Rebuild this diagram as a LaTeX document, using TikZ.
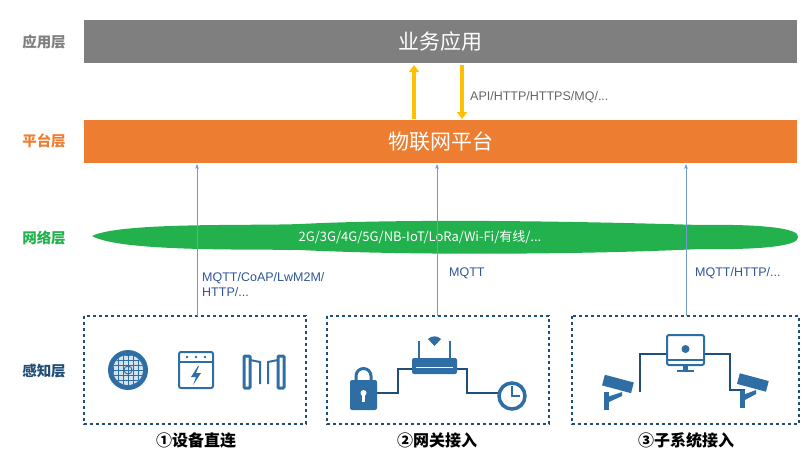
\documentclass[tikz,border=0pt]{standalone}
\usepackage{fontspec}
\setmainfont{Liberation Sans}
\newfontfamily\cjk{Noto Sans CJK SC}
\usetikzlibrary{arrows.meta}
\definecolor{gbar}{HTML}{7F7F7F}
\definecolor{obar}{HTML}{ED7D31}
\definecolor{gcloud}{HTML}{22B14C}
\definecolor{lblue}{HTML}{6E9BD0}
\definecolor{dblue}{HTML}{1F4E79}
\definecolor{iblue}{HTML}{2F6EA5}
\definecolor{tblue}{HTML}{2F5597}
\definecolor{yarr}{HTML}{FFC000}
\begin{document}
\begin{tikzpicture}[x=1pt,y=-1pt,
  bar/.style={inner sep=0pt,minimum width=713pt,minimum height=43pt,text=white,font=\cjk\fontsize{21}{24}\selectfont},
  layer/.style={font=\cjk\bfseries\fontsize{14.5}{16}\selectfont},
  proto/.style={font=\fontsize{12.5}{15}\selectfont,text=tblue,anchor=west,align=left,inner sep=0pt},
  dbox/.style={draw=dblue,dashed,line width=1.6pt},
  captext/.style={font=\cjk\bfseries\fontsize{16}{18}\selectfont},
  up/.style={lblue,line width=1pt,-{Stealth[length=5pt]}},
  yel/.style={yarr,line width=3.5pt,-{Triangle[length=7pt,width=10pt]}},
  ico/.style={iblue,line width=2pt},
  wire/.style={dblue,line width=1.6pt}]
\useasboundingbox (0,0) rectangle (806,456);
\node[bar,fill=gbar] (app) at (440.5,41.5) {业务应用};
\node[bar,fill=obar] (plat) at (440.5,141.5) {物联网平台};
\node[layer,text=gbar] (l1) at (44,42) {应用层};
\node[layer,text=obar] (l2) at (44,141) {平台层};
\node[layer,text=gcloud] (l3) at (44,238) {网络层};
\node[layer,text=dblue] (l4) at (44,371) {感知层};
\draw[yel] (414,119) -- (414,65);
\draw[yel] (462,65) -- (462,119);
\node[proto,text=gbar!80!black] (api) at (470,97) {API/HTTP/HTTPS/MQ/...};
% cloud
\fill[gcloud] (92,236) .. controls (120,222) and (250,226) .. (300,224)
  .. controls (420,218) and (600,222) .. (700,225)
  .. controls (760,224) and (800,228) .. (798,237)
  .. controls (800,246) and (760,250) .. (700,249)
  .. controls (600,254) and (420,256) .. (300,250)
  .. controls (250,249) and (120,252) .. (92,236) -- cycle;
\node[text=white,font=\cjk\fontsize{13}{15}\selectfont] (net) at (420,237) {2G/3G/4G/5G/NB-IoT/LoRa/Wi-Fi/有线/...};
% boxes
\draw[dbox] (84,316) rectangle (306,424);
\draw[dbox] (327,316) rectangle (549,424);
\draw[dbox] (572,316) rectangle (799,424);
\coordinate (b1) at (197,316); \coordinate (b2) at (437,316); \coordinate (b3) at (686,316);
\draw[up] (b1) -- (197,164);
\draw[up] (b2) -- (437,164);
\draw[up] (b3) -- (686,164);
\node[proto] (p1) at (202,285) {MQTT/CoAP/LwM2M/\\HTTP/...};
\node[proto] (p2) at (449,273) {MQTT};
\node[proto] (p3) at (695,273) {MQTT/HTTP/...};
\node[captext] (c1) at (196,440) {①设备直连};
\node[captext] (c2) at (437,440) {②网关接入};
\node[captext] (c3) at (686,440) {③子系统接入};
% box1 icons
\fill[iblue] (128,370) circle (20);
\fill[white!80!iblue] (128,370) circle (15);
\begin{scope}
\clip (128,370) circle (15);
\foreach \d in {-15,-10,...,15}{\draw[iblue,line width=0.6pt] (113,370+\d) -- (143,370+\d); \draw[iblue,line width=0.6pt] (128+\d,355) -- (128+\d,385);}
\end{scope}
\draw[iblue,line width=1pt] (128,370) circle (4);
\draw[ico,rounded corners=2pt] (179,352) rectangle (213,388);
\draw[ico] (179,362) -- (213,362);
\foreach \xx in {187,196,205} \fill[iblue] (\xx,357) circle (1.3);
\fill[iblue] (198,366) -- (191,377) -- (196,377) -- (193,385) -- (201,373) -- (196,373) -- (199,366) -- cycle;
\draw[ico,line width=3pt,rounded corners=1pt] (244,356) rectangle (250,388);
\draw[ico,line width=3pt,rounded corners=1pt] (278,356) rectangle (284,388);
\draw[ico] (250,360) -- (260,362) -- (260,384);
\draw[ico] (278,360) -- (268,362) -- (268,384);
% box2
\draw[wire] (377,393) -- (398,393) -- (398,369) -- (467,369) -- (467,393) -- (498,393);
\fill[iblue,rounded corners=2pt] (412,358) rectangle (457,374);
\draw[white,line width=1pt] (416,367) -- (453,367);
\draw[ico,line width=2.5pt] (419,358) -- (419,341);
\draw[ico,line width=2.5pt] (450,358) -- (450,341);
\fill[iblue] (434.5,346) -- (428,339) arc (225:315:9.2) -- cycle;
\draw[iblue,line width=3pt] (356,381) -- (356,376) arc (180:360:7.5) -- (371,381);
\fill[iblue,rounded corners=2pt] (350,380) rectangle (377,410);
\fill[white] (363.5,393) circle (3);
\fill[white] (362,395) rectangle (365,402);
\draw[iblue,line width=3.5pt] (512,396) circle (13);
\draw[iblue,line width=2pt] (512,386) -- (512,396) -- (520,396);
% box3
\draw[wire] (640,392) -- (640,354) -- (667,354);
\draw[wire] (704,354) -- (730,354) -- (730,390) -- (745,390);
\draw[ico,fill=white,rounded corners=2pt] (667,335) rectangle (704,365);
\draw[ico] (667,360) -- (704,360);
\fill[iblue] (683,365) rectangle (688,370); \fill[iblue] (677,370) rectangle (694,372);
\fill[iblue] (685.5,349) circle (4);
\fill[iblue,rotate around={-15:(620,384)}] (603,379) rectangle (633,390);
\fill[iblue] (604,392) rectangle (609,410); \fill[iblue] (604,398) -- (622,392) -- (622,396) -- (609,402) -- cycle;
\fill[iblue,rotate around={-15:(753,382)}] (738,377) rectangle (768,388);
\fill[iblue] (740,390) rectangle (745,408); \fill[iblue] (740,396) -- (756,390) -- (756,394) -- (745,400) -- cycle;
\end{tikzpicture}
\end{document}
